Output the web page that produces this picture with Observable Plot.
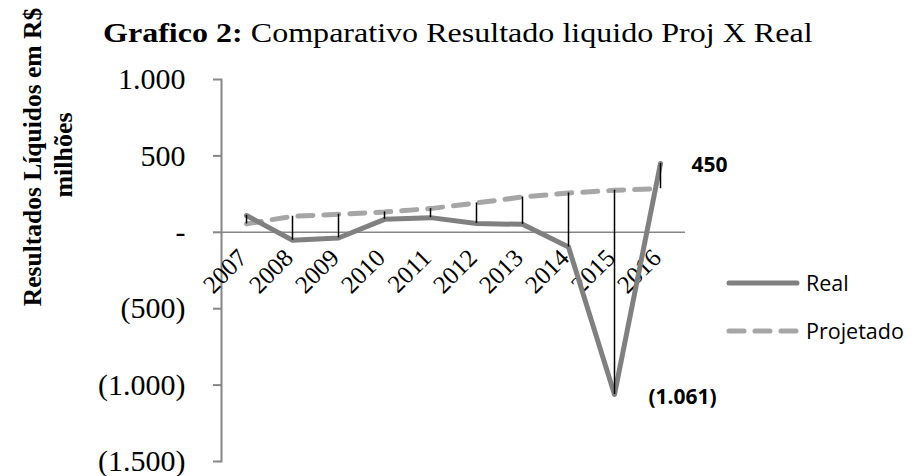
<!DOCTYPE html>
<html>
<head>
<meta charset="utf-8">
<script src="https://cdn.jsdelivr.net/npm/d3@7"></script>
<script src="https://cdn.jsdelivr.net/npm/@observablehq/plot@0.6"></script>
<style>
  html, body { margin: 0; padding: 0; background: #fff; }
  #chart { position: relative; width: 913px; height: 476px; }
</style>
</head>
<body>
<div id="chart"></div>
<script>
const years = ["2007","2008","2009","2010","2011","2012","2013","2014","2015","2016"];
const real = [110, -52, -37, 85, 96, 57, 52, -96, -1061, 450];
const projetado = [55, 105, 118, 133, 155, 192, 231, 257, 275, 285];
const yTicks = [1000, 500, 0, -500, -1000, -1500];
const seriesNames = ["Real", "Projetado"];
const titleBold = "Grafico 2:";
const titleRest = " Comparativo Resultado liquido Proj X Real";
const yTitle1 = "Resultados Líquidos em R$";
const yTitle2 = "milhões";
const maxLabel = {year: "2016", value: 450};
const minLabel = {year: "2015", value: -1061};

const num = d3.format(",");
const fmt = v => v === 0 ? "-" : v < 0 ? "(" + num(-v).replace(/,/g, ".") + ")" : num(v).replace(/,/g, ".");

const rows = years.map((y, i) => ({year: y, real: real[i], proj: projetado[i]}));
const serif = "'Liberation Serif', 'Times New Roman', serif";
const sans = "'Open Sans', 'Liberation Sans', sans-serif";
const dash = "15,11";

const plot = Plot.plot({
  width: 913,
  height: 476,
  marginLeft: 221,
  marginRight: 228,
  marginTop: 79,
  marginBottom: 15,
  style: {background: "#fff", fontFamily: serif},
  x: {type: "band", domain: years, padding: 0, axis: null},
  y: {domain: [-1500, 1000], axis: null},
  marks: [
    Plot.ruleY([0], {stroke: "#868686", strokeWidth: 1.5}),
    Plot.frame({anchor: "left", stroke: "#868686", strokeWidth: 2}),
    Plot.axisY({ticks: yTicks, tickFormat: fmt, tickSize: 8, tickPadding: 28, stroke: "#868686", strokeWidth: 2, fill: "black", fontSize: 30, fontFamily: serif, label: null}),
    Plot.text(years, {x: d => d, y: () => 0, text: d => d, rotate: -45, textAnchor: "end", lineAnchor: "bottom", dx: 2, dy: 27, fontSize: 25, fontFamily: serif, fill: "black"}),
    Plot.line(rows, {x: "year", y: "proj", stroke: "#a6a6a6", strokeWidth: 5, strokeDasharray: dash, strokeLinecap: "round"}),
    Plot.line(rows, {x: "year", y: "real", stroke: "#808080", strokeWidth: 5, strokeLinejoin: "round", strokeLinecap: "round"}),
    Plot.ruleX(rows, {x: "year", y1: d => Math.min(d.real, d.proj), y2: d => Math.max(d.real, d.proj), stroke: "black", strokeWidth: 1.5}),
    Plot.text([maxLabel], {x: "year", y: "value", text: d => fmt(d.value), dx: 49, dy: 2, fontSize: 21, fontWeight: "bold", fontFamily: sans, fill: "black"}),
    Plot.text([minLabel], {x: "year", y: "value", text: d => fmt(d.value), dx: 68, dy: 3, fontSize: 21, fontWeight: "bold", fontFamily: sans, fill: "black"})
  ]
});

document.getElementById("chart").appendChild(plot);
const svg = d3.select(plot);

// Title (horizontally stretched like the reference)
const t = svg.append("text").attr("transform", "translate(103,42) scale(1.21,1)").attr("text-anchor", "start")
  .attr("font-family", serif).attr("font-size", 26.5).attr("fill", "black");
t.append("tspan").attr("font-weight", "bold").text(titleBold);
t.append("tspan").text(titleRest);

// Y title
svg.append("text").attr("transform", "translate(41,157) rotate(-90)").attr("text-anchor", "middle")
  .attr("font-family", serif).attr("font-weight", "bold").attr("font-size", 25.5).attr("fill", "black").text(yTitle1);
svg.append("text").attr("transform", "translate(72,155) rotate(-90)").attr("text-anchor", "middle")
  .attr("font-family", serif).attr("font-weight", "bold").attr("font-size", 26).attr("fill", "black").text(yTitle2);

// Legend
const leg = svg.append("g");
[{name: seriesNames[0], y: 283, color: "#808080", dash: null}, {name: seriesNames[1], y: 331, color: "#a6a6a6", dash: dash}].forEach(s => {
  leg.append("line").attr("x1", 729).attr("x2", 797).attr("y1", s.y).attr("y2", s.y)
    .attr("stroke", s.color).attr("stroke-width", 5).attr("stroke-linecap", "round").attr("stroke-dasharray", s.dash);
  leg.append("text").attr("x", 806).attr("y", s.y + 8).attr("text-anchor", "start").attr("font-family", sans).attr("font-size", 21.5).attr("fill", "black").text(s.name);
});
</script>
</body>
</html>
